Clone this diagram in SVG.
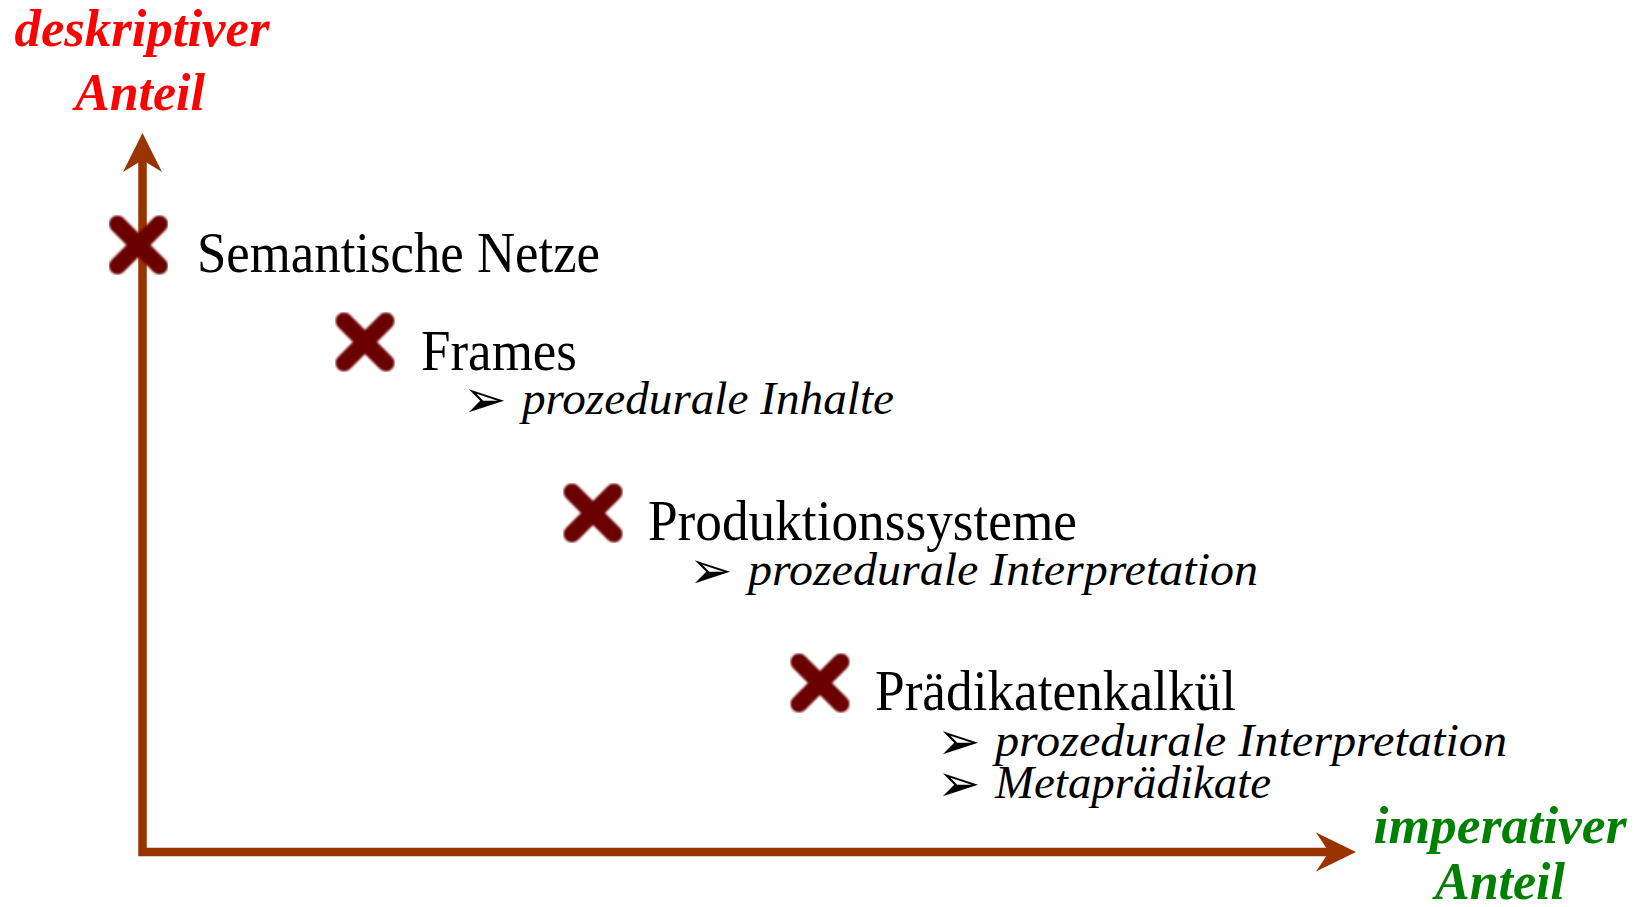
<svg xmlns="http://www.w3.org/2000/svg" width="1639" height="907" viewBox="0 0 1639 907">
<style>
.axis{stroke:#993300;stroke-width:8.5;fill:none}
.head{fill:#993300}
.mark{stroke:#6b0000;stroke-width:17;stroke-linecap:round;fill:none;filter:url(#soft)}
.hdr{font-family:"Liberation Serif","Times New Roman",serif;font-size:56px;fill:#000}
.sub{font-family:"Liberation Serif","Times New Roman",serif;font-style:italic;font-size:46px;fill:#000}
.bul{font-family:"DejaVu Sans",sans-serif;font-size:52px;fill:#000}
.axl{font-family:"Liberation Serif","Times New Roman",serif;font-style:italic;font-weight:bold;font-size:52px;text-anchor:middle}
</style>
<defs>
<filter id="soft" x="-20%" y="-20%" width="140%" height="140%"><feGaussianBlur stdDeviation="1"/></filter>
</defs>
<g id="connectors">
<path class="axis" d="M142.5,160 V852 H1330"/>
<polygon class="head" points="142.5,133 162,172 142.5,160 123,172"/>
<polygon class="head" points="1356,852 1316,832.5 1329,852 1316,871.5"/>
</g>
<g id="axis-y-label">
<text class="axl" x="142" y="46" fill="#ff0000" textLength="255" lengthAdjust="spacingAndGlyphs">deskriptiver</text>
<text class="axl" x="140" y="110" fill="#ff0000">Anteil</text>
</g>
<g id="axis-x-label">
<text class="axl" x="1500" y="843" fill="#008000" textLength="253" lengthAdjust="spacingAndGlyphs">imperativer</text>
<text class="axl" x="1500" y="899" fill="#008000">Anteil</text>
</g>
<g id="node-semantische-netze">
<path class="mark" d="M117.5,224 L159.5,266 M159.5,224 L117.5,266"/>
<text class="hdr" x="197" y="272" textLength="403" lengthAdjust="spacingAndGlyphs">Semantische Netze</text>
</g>
<g id="node-frames">
<path class="mark" d="M344,321 L386,363 M386,321 L344,363"/>
<text class="hdr" x="421" y="370" textLength="156" lengthAdjust="spacingAndGlyphs">Frames</text>
<text class="bul" x="463" y="417">➢</text>
<text class="sub" x="522" y="414" textLength="372" lengthAdjust="spacingAndGlyphs">prozedurale Inhalte</text>
</g>
<g id="node-produktionssysteme">
<path class="mark" d="M572,492 L614,534 M614,492 L572,534"/>
<text class="hdr" x="648" y="540" textLength="429" lengthAdjust="spacingAndGlyphs">Produktionssysteme</text>
<text class="bul" x="689" y="588">➢</text>
<text class="sub" x="748" y="585" textLength="510" lengthAdjust="spacingAndGlyphs">prozedurale Interpretation</text>
</g>
<g id="node-praedikatenkalkuel">
<path class="mark" d="M799,662 L841,704 M841,662 L799,704"/>
<text class="hdr" x="875" y="710" textLength="361" lengthAdjust="spacingAndGlyphs">Prädikatenkalkül</text>
<text class="bul" x="937" y="759">➢</text>
<text class="sub" x="995" y="756" textLength="512" lengthAdjust="spacingAndGlyphs">prozedurale Interpretation</text>
<text class="bul" x="937" y="801">➢</text>
<text class="sub" x="995" y="798" textLength="276" lengthAdjust="spacingAndGlyphs">Metaprädikate</text>
</g>
</svg>
